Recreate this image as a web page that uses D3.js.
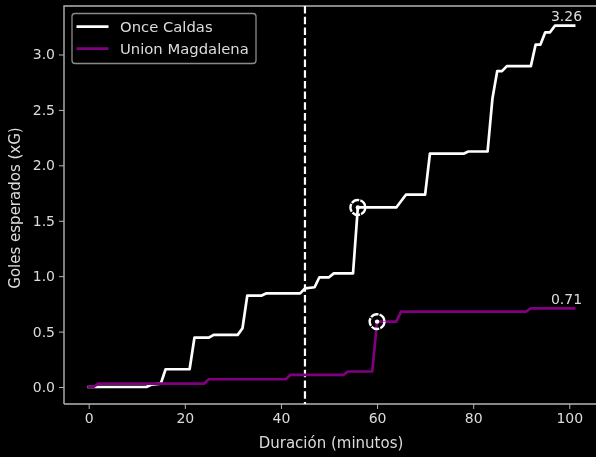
<!DOCTYPE html>
<html><head><meta charset="utf-8">
<script src="https://cdn.jsdelivr.net/npm/d3@7"></script>
<style>html,body{margin:0;padding:0;background:#000;overflow:hidden}svg{display:block;filter:blur(.35px)}text{font-family:"DejaVu Sans";fill:#dcdcdc}</style>
</head><body><svg id="c" width="596" height="457"></svg>
<script>
const teams=["Once Caldas","Union Magdalena"];
const teamColors=["#ffffff","#800080"];
const caldasMin=[0,1,2,12,13,15,16,21,22,25,26,31,32,33,36,37,44,45,47,48,50,51,55,56,64,66,70,71,78,79,83,84,85,86,87,92,93,94,95,96,97,101];
const caldasXg=[0,0,0,0,.02,.03,.16,.16,.445,.445,.47,.47,.53,.825,.825,.845,.845,.89,.9,.99,.99,1.025,1.025,1.62,1.62,1.735,1.735,2.105,2.105,2.125,2.125,2.6,2.85,2.85,2.895,2.895,3.09,3.09,3.2,3.2,3.26,3.26];
const magdalenaMin=[0,1,2,24,25,41,42,53,54,59,60,64,65,91,92,101];
const magdalenaXg=[0,0,.03,.03,.07,.07,.11,.11,.14,.14,.59,.59,.68,.68,.71,.71];
const goals=[{m:56,v:1.62},{m:60,v:.59}];
const xTicks=[0,20,40,60,80,100];
const yTicks=[0,.5,1,1.5,2,2.5,3];
const halftime=45;
const svg=d3.select("#c");
const x=d3.scaleLinear().domain([0,100]).range([88.7,569.3]);
const y=d3.scaleLinear().domain([0,3]).range([387,54.5]);
const L=64,R=596,T=6,B=404;
const axisCol="#b4b4b4";
const gx=svg.append("g").attr("transform",`translate(0,${B})`).call(d3.axisBottom(x).tickValues(xTicks).tickSize(5).tickPadding(4).tickFormat(d3.format("d")));
const gy=svg.append("g").attr("transform",`translate(${L},0)`).call(d3.axisLeft(y).tickValues(yTicks).tickSize(5).tickPadding(4).tickFormat(d3.format(".1f")));
[gx,gy].forEach(g=>{g.select(".domain").remove();g.selectAll("line").attr("stroke",axisCol);g.selectAll("text").attr("font-size",14).attr("font-family","DejaVu Sans").attr("fill","#dcdcdc");});
svg.append("path").attr("d",`M${L},${B}V${T}H${R+2}M${L},${B}H${R+2}`).attr("fill","none").attr("stroke",axisCol).attr("stroke-width",1.4);
svg.append("text").attr("x",331).attr("y",448).attr("text-anchor","middle").attr("font-size",15).text("Duración (minutos)");
svg.append("text").attr("transform","translate(20,208) rotate(-90)").attr("text-anchor","middle").attr("font-size",15).text("Goles esperados (xG)");
const line=d3.line().x(d=>x(d[0])).y(d=>y(d[1]));
svg.append("line").attr("x1",x(halftime)).attr("x2",x(halftime)).attr("y1",T).attr("y2",B).attr("stroke","#fff").attr("stroke-width",2.2).attr("stroke-dasharray","7.5 3.2");
const series=[d3.zip(caldasMin,caldasXg),d3.zip(magdalenaMin,magdalenaXg)];
series.forEach((s,i)=>svg.append("path").attr("d",line(s)).attr("fill","none").attr("stroke",teamColors[i]).attr("stroke-width",2.7).attr("stroke-linejoin","round").attr("stroke-linecap","square"));
goals.forEach(g=>{const b=svg.append("g").attr("transform",`translate(${x(g.m)},${y(g.v)})`);
b.append("circle").attr("r",7.4).attr("fill","none").attr("stroke","#fff").attr("stroke-width",2.4).attr("stroke-dasharray","8.2 1.1");
b.append("circle").attr("r",2.2).attr("fill","#fff");});
[[series[0],3.26],[series[1],.71]].forEach(([s,v])=>svg.append("text").attr("x",566.5).attr("y",y(v)-4.5).attr("text-anchor","middle").attr("font-size",14).text(v.toFixed(2)));
const lg=svg.append("g");
lg.append("rect").attr("x",72).attr("y",13.5).attr("width",184).attr("height",50).attr("rx",3).attr("fill","#000").attr("stroke","#8a8a8a").attr("stroke-width",1.3);
teams.forEach((t,i)=>{const yy=26.7+i*22;
lg.append("line").attr("x1",76.5).attr("x2",108.5).attr("y1",yy).attr("y2",yy).attr("stroke",teamColors[i]).attr("stroke-width",2.7);
lg.append("text").attr("x",120).attr("y",yy+5.3).attr("font-size",14.8).text(t);});
</script></body></html>
